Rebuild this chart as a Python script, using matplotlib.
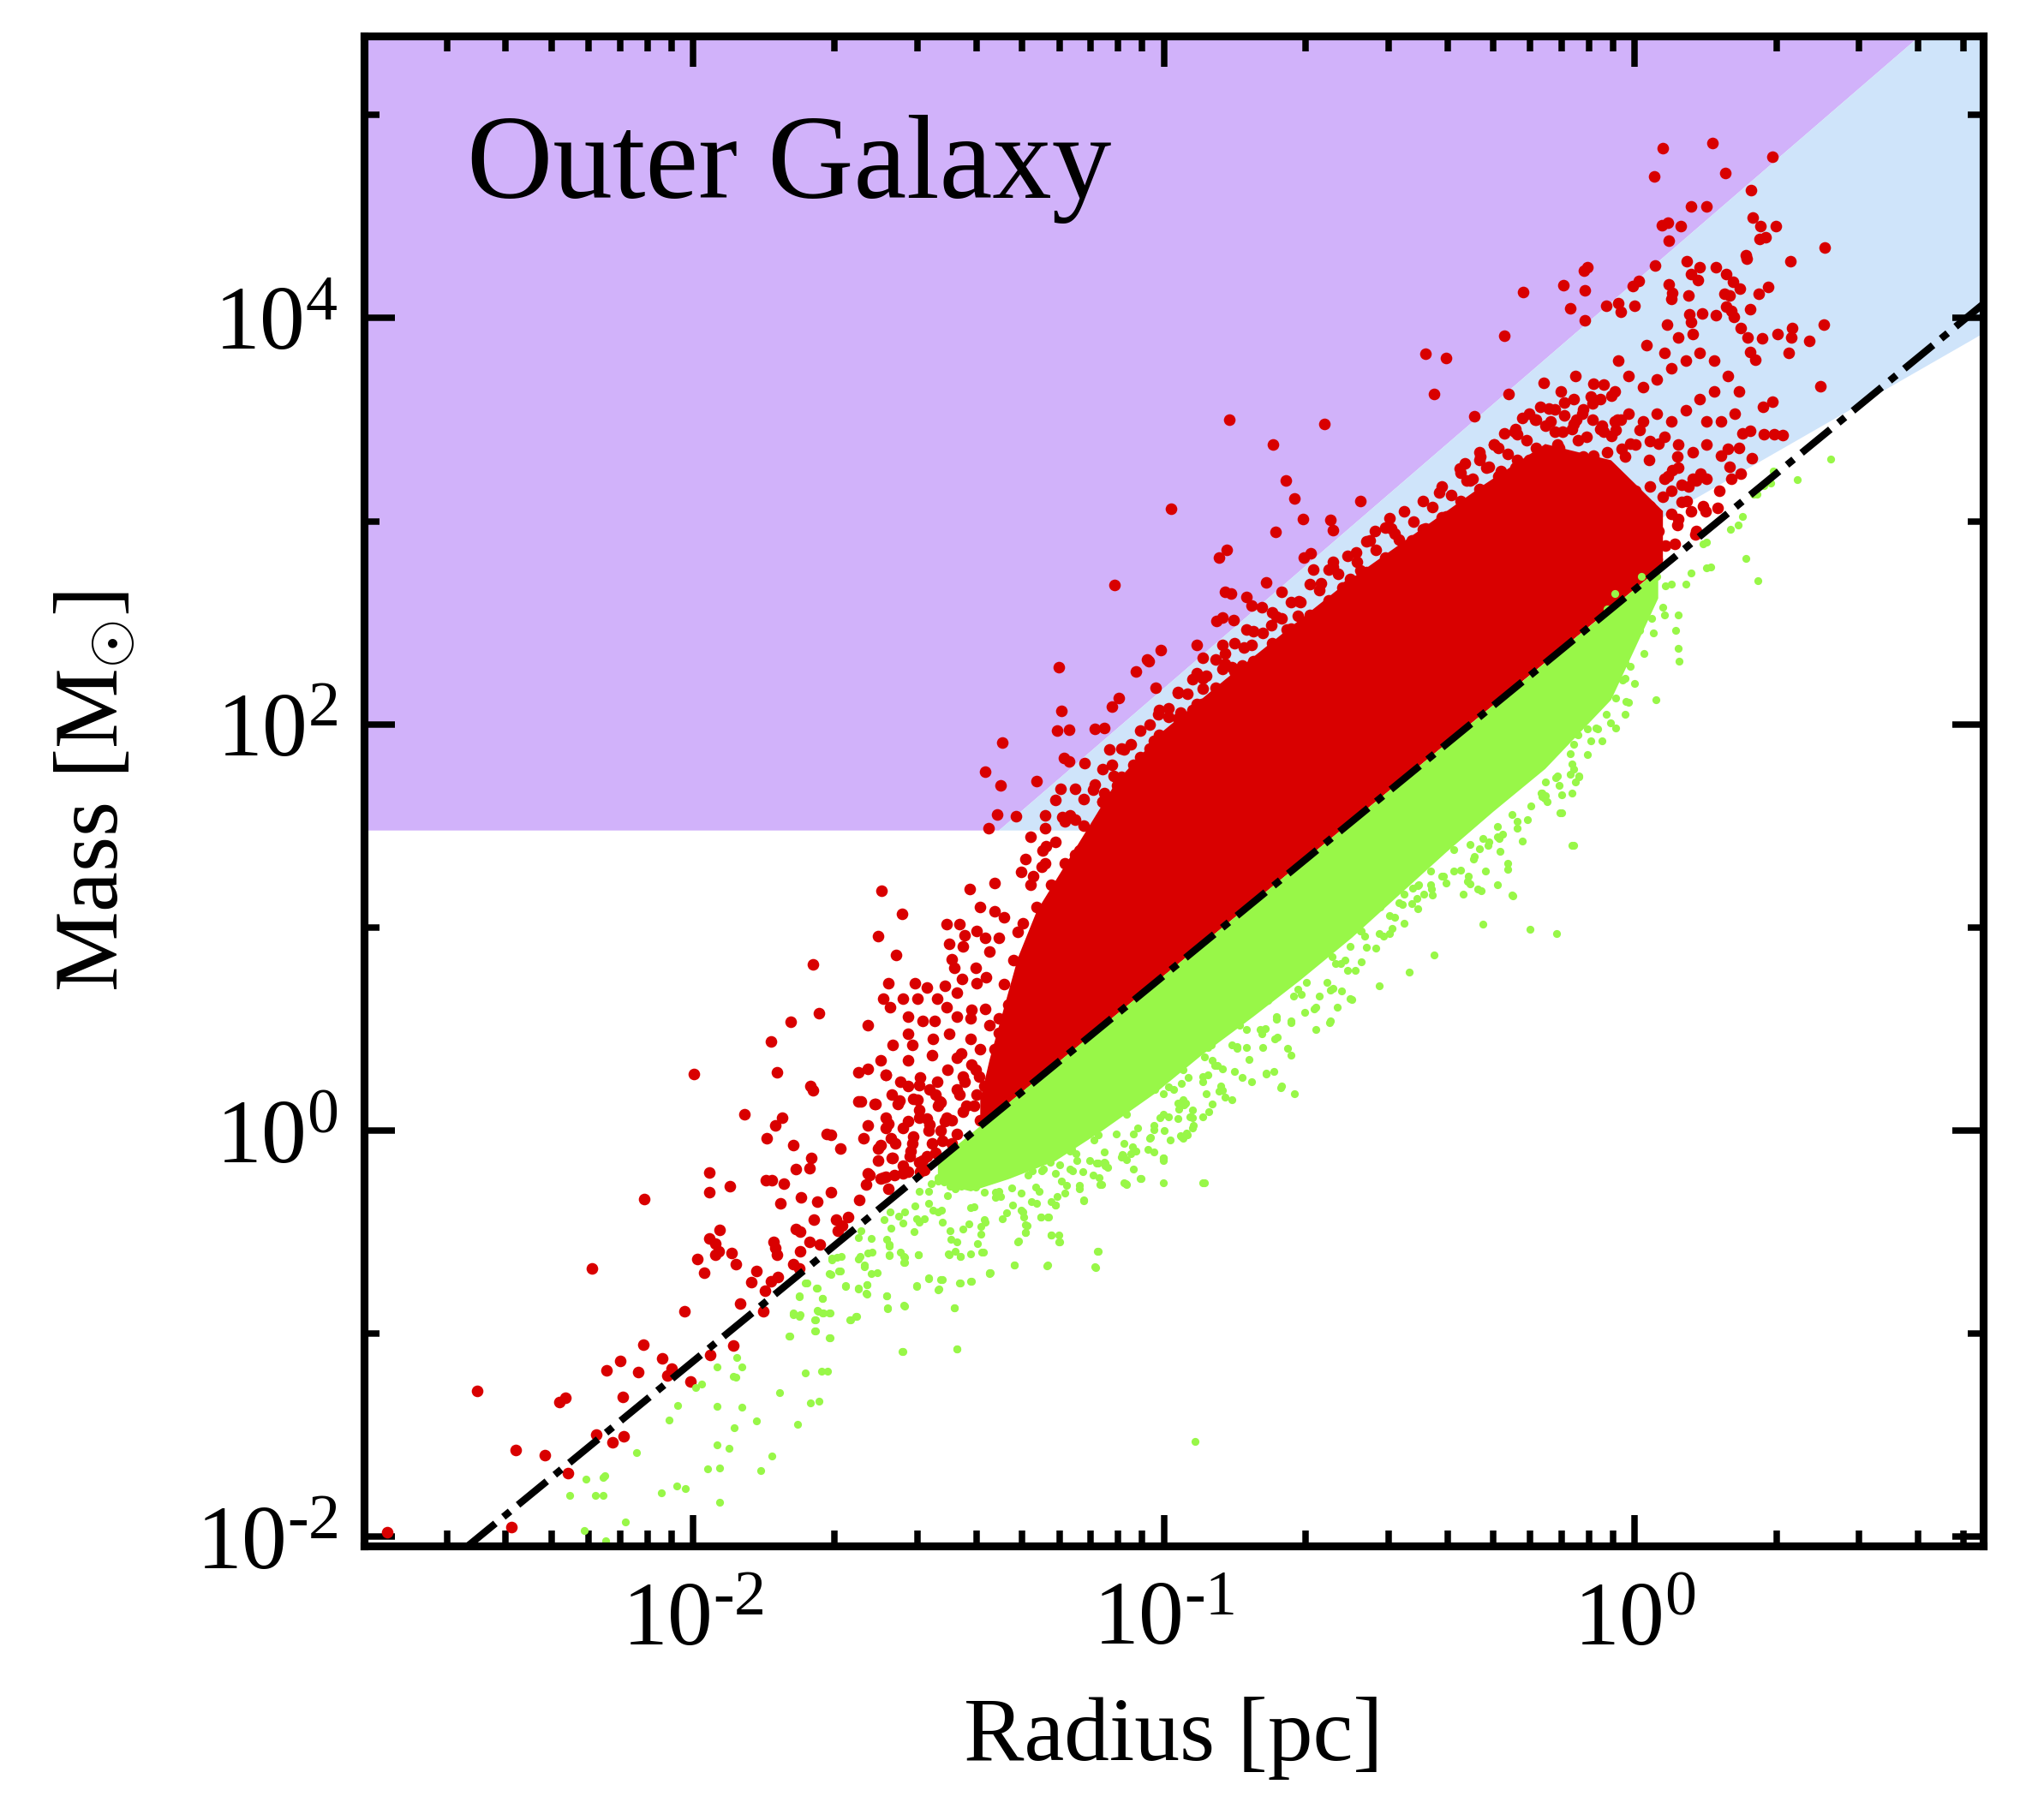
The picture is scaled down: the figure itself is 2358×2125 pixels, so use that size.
import numpy as np
import matplotlib.pyplot as plt
from matplotlib.ticker import FixedLocator, LogLocator, NullFormatter, FuncFormatter

plt.rcParams['font.family'] = ['Liberation Serif', 'DejaVu Serif']
plt.rcParams['mathtext.fontset'] = 'custom'
plt.rcParams['mathtext.rm'] = 'Liberation Serif'
plt.rcParams['mathtext.it'] = 'Liberation Serif:italic'

# axis ranges
r_min, r_max = 0.002, 5.5
m_min, m_max = 0.009, 2.45e5

# thresholds
m_floor = 30.0                  # Msun
kp_coef, kp_exp = 870.0, 1.33   # lower edge of blue band
sig_coef = 15050.0              # 1 g cm^-2 : M = pi R^2 Sigma
b_coef, b_exp = 460.0, 1.9      # dash-dot line

# points: (log10 R [pc], log10 M [Msun])
red_left = [(-1.999,0.277),(-1.822,0.288),(-1.750,0.217),(-1.746,0.199),(-1.891,0.080),(-1.810,0.064),
    (-1.825,0.027),(-1.843,-0.040),(-1.788,-0.071),(-1.717,-0.017),(-1.708,-0.020),(-1.688,-0.087),
    (-1.749,-0.137),(-1.752,-0.188),(-1.781,-0.191),(-1.965,-0.207),(-1.965,-0.305),(-1.921,-0.276),
    (-1.845,-0.243),(-1.833,-0.243),(-1.807,-0.260),(-2.104,-0.337),(-1.814,-0.360),(-1.771,-0.329),
    (-1.737,-0.349),(-1.707,-0.302),(-1.647,-0.341),(-1.644,0.142),(-1.615,0.131),(-1.590,0.272),
    (-1.648,0.288),(-1.743,-0.438),(-1.697,-0.438),(-1.671,-0.426),(-1.683,-0.469),(-1.692,-0.493),
    (-1.944,-0.488),(-1.965,-0.532),(-1.952,-0.555),(-1.946,-0.594),(-1.952,-0.610),(-1.918,-0.602),
    (-1.991,-0.632),(-1.976,-0.699),(-1.909,-0.657),(-1.829,-0.547),(-1.825,-0.579),(-1.822,-0.610),
    (-1.781,-0.485),(-1.772,-0.500),(-1.752,-0.550),(-1.731,-0.560),(-1.773,-0.594),(-1.787,-0.657),
    (-1.775,-0.680),(-1.866,-0.691),(-1.820,-0.722),(-1.835,-0.742),(-1.876,-0.747),(-1.847,-0.789),
    (-1.900,-0.853),(-1.851,-0.891),(-2.018,-0.891),(-2.215,-0.678),(-2.106,-1.053),(-2.155,-1.137),
    (-2.066,-1.122),(-2.183,-1.181),(-2.116,-1.190),(-2.046,-1.172),(-2.054,-1.206),(-1.915,-1.058),
    (-1.963,-1.106),(-2.006,-1.237),(-2.458,-1.284),(-2.149,-1.312),(-2.284,-1.339),(-2.271,-1.315),
    (-2.206,-1.496),(-2.172,-1.534),(-2.147,-1.507),(-2.376,-1.574),(-2.315,-1.598),(-2.265,-1.687),
    (-2.386,-1.955),(-2.649,-1.980),(-1.746,0.818),(-1.733,0.578),(-1.793,0.534),(-1.835,0.440)]

red_low_cluster = [(-1.543,0.217),(-1.520,0.225),(-1.497,0.202),(-1.485,0.178),(-1.578,0.178),(-1.561,0.147),
    (-1.532,0.155),(-1.474,0.139),(-1.427,0.264),(-1.392,0.264),(-1.358,0.264),(-1.381,0.217),
    (-1.369,0.170),(-1.404,0.124),(-1.427,0.092),(-1.462,0.061),(-1.520,0.061),(-1.497,0.030),
    (-1.474,-0.001),(-1.439,-0.017),(-1.450,-0.063),(-1.532,-0.032),(-1.555,0.014),(-1.590,0.061),
    (-1.590,0.014),(-1.580,-0.037),(-1.607,-0.087),(-1.578,-0.134),(-1.555,-0.173),(-1.543,-0.204),
    (-1.520,-0.157),(-1.503,-0.126),(-1.485,-0.110),(-1.538,-0.103),(-1.590,-0.227),(-1.625,-0.220),
    (-1.601,-0.235),(-1.572,-0.220),(-1.508,-0.196),
    (-1.600,1.182),(-1.557,1.068),(-1.607,0.959),(-1.568,0.864),(-1.412,1.187),(-1.461,1.014),
    (-1.435,1.014),(-1.424,0.961),(-1.398,0.982),(-1.456,0.918),(-1.427,0.907),(-1.450,0.842),
    (-1.445,0.799),(-1.429,0.745),(-1.466,0.713),(-1.398,0.724),(-1.377,0.756),(-1.503,0.702),
    (-1.529,0.724),(-1.586,0.724),(-1.555,0.648),(-1.597,0.648),(-1.581,0.605),(-1.523,0.648),
    (-1.482,0.648),(-1.461,0.605),(-1.440,0.562),(-1.409,0.595),(-1.544,0.562),(-1.513,0.541),
    (-1.487,0.541),(-1.628,0.519),(-1.544,0.476),(-1.456,0.476),(-1.576,0.422),(-1.534,0.422),
    (-1.602,0.347),(-1.544,0.347),(-1.492,0.369),(-1.440,0.358),(-1.409,0.326),(-1.628,0.304),
    (-1.591,0.272),(-1.560,0.239),(-1.518,0.261),(-1.482,0.239),(-1.424,0.239),(-1.649,0.143),
    (-1.612,0.132),(-1.565,0.132),(-1.523,0.153),(-1.476,0.143),(-1.435,0.175),(-1.398,0.175),
    (-1.628,0.024),(-1.586,0.035),(-1.544,0.046),(-1.503,0.057),(-1.466,0.046),(-1.638,-0.040),
    (-1.602,-0.073),(-1.570,-0.062),(-1.534,-0.062),(-1.492,-0.062),(-1.607,-0.148),(-1.576,-0.137),
    (-1.539,-0.126),(-1.513,-0.148),(-1.628,-0.213),(-1.597,-0.234),(-1.555,-0.213),(-1.518,-0.202),
    (-1.633,-0.266),(-1.586,-0.288),
    (-1.36,0.40),(-1.35,0.55),(-1.37,0.88),(-1.34,1.05),(-1.39,1.10),(-1.36,1.22),(-1.33,0.30),
    (-1.38,0.60),(-1.41,0.45),(-1.35,0.95),
    (-1.47,-0.05),(-1.45,0.05),(-1.44,0.20),(-1.42,0.12),(-1.40,0.30),(-1.39,0.05),(-1.37,0.20),
    (-1.36,0.10),(-1.34,0.35),(-1.35,0.48),(-1.33,0.62),(-1.34,0.72),(-1.32,0.84),(-1.31,0.98),
    (-1.37,0.52),(-1.39,0.40),(-1.41,0.55),(-1.43,0.38),(-1.46,0.30),(-1.48,0.12),(-1.50,0.00),
    (-1.52,0.10),(-1.49,0.45),(-1.44,0.68),(-1.40,0.80),(-1.38,0.95),(-1.36,1.08)]

red_mid_band = [(-0.705,3.012),(-0.646,3.006),(-0.641,2.956),(-0.763,2.948),(-0.867,2.859),(-0.883,2.823),
    (-1.104,2.687),(-0.870,2.651),(-0.858,2.646),(-0.889,2.511),(-0.876,2.526),(-0.852,2.513),
    (-0.931,2.392),(-1.006,2.364),(-1.036,2.321),(-1.032,2.310),(-1.060,2.259),(-1.224,2.280),
    (-1.017,2.181),(-1.095,2.130),(-1.111,2.087),(-1.218,2.067),(-1.147,1.977),(-1.126,1.983),
    (-1.226,1.968),(-1.202,1.975),(-1.344,1.908),(-1.212,1.833),(-1.202,1.817),(-1.168,1.807),
    (-1.379,1.766),(-1.271,1.721),(-1.346,1.701),(-1.354,1.557),(-1.314,1.546),(-1.372,1.488),
    (-0.703,2.823),(-0.688,2.844),(-0.682,2.762),(-0.641,2.801),(-0.641,2.775),(-0.583,2.758),
    (-0.782,2.698),(-0.750,2.651),(-0.714,2.608),(-0.667,2.694),(-0.604,2.715),(-0.552,2.952),
    (-0.521,3.016),(-0.489,2.844),(-0.500,2.909),(-0.458,2.887),(-0.411,2.984),(-0.390,2.952),
    (-0.348,2.941),(-0.416,2.898),(-0.824,2.629),(-0.813,2.586),(-0.792,2.575),(-0.761,2.532),
    (-0.716,2.534),(-0.771,2.489),(-0.740,2.468),(-0.698,2.468),(-0.657,2.521),(-0.630,2.511),
    (-0.620,2.672),(-0.573,2.651),(-0.824,2.468),(-0.813,2.392),(-0.876,2.392),(-0.871,2.349),
    (-0.918,2.328),(-0.939,2.224),(-0.918,2.226),(-0.876,2.274),(-0.855,2.280),(-0.834,2.289),
    (-0.813,2.274),(-0.782,2.285),(-0.918,2.177),(-0.970,2.155),(-0.965,2.058),(-0.991,2.037),
    (-1.012,2.048),(-0.939,2.069),(-0.918,2.026),(-0.897,1.983),(-1.022,1.919),(-0.991,1.951),
    (-1.043,1.833),(-1.064,1.800),(-1.116,1.876),(-1.085,1.876),(-1.147,1.703),(-1.126,1.660),
    (-1.106,1.746),(-1.189,1.682),(-1.220,1.682),(-1.231,1.628),(-1.252,1.553),(-1.215,1.542),
    (-1.189,1.531),(-1.252,1.488),(-1.283,1.445),(-1.257,1.380),(-1.294,1.337),(-1.304,1.273),
    (-1.278,1.251),(-1.283,1.208),(-1.252,1.316),(-1.210,1.316),(-1.189,1.359)]

# fuzzy upper rim of the red cloud
red_rim = [(-1.30,1.02),(-1.27,1.10),(-1.24,1.21),(-1.22,1.05),(-1.20,1.30),(-1.18,1.38),(-1.16,1.27),
    (-1.15,1.45),(-1.13,1.62),(-1.12,1.50),(-1.10,1.70),(-1.08,1.61),(-1.06,1.77),(-1.05,1.66),
    (-1.03,1.88),(-1.01,1.83),(-0.99,1.95),(-0.98,1.86),(-0.96,2.03),(-0.94,1.93),(-0.92,2.10),
    (-0.88,2.17),(-0.84,2.24),(-0.80,2.31),(-0.76,2.38),(-0.72,2.45),(-0.68,2.52),(-0.64,2.60),
    (-0.60,2.66),(-0.56,2.71),(-0.52,2.80),(-0.48,2.86),(-0.44,2.93),(-0.40,3.00),(-0.36,3.07),
    (-0.32,3.12),(-0.28,3.18),(-0.24,3.27),(-0.20,3.33),(-0.16,3.36),(-0.12,3.40),(-0.04,3.45),
    (-1.25,1.40),(-1.21,1.52),(-1.17,1.63),(-1.13,1.78),(-1.09,1.88),(-1.05,1.97),(-1.01,2.07),
    (-0.97,2.16),(-0.93,2.25),(-0.89,2.32),(-0.85,2.40),(-0.81,2.46),(-0.77,2.55),(-0.73,2.60),
    (-0.69,2.69),(-0.65,2.76),(-0.61,2.83),(-0.57,2.90),(-0.53,2.97),(-0.49,3.05),(-0.45,3.10),
    (-0.41,3.17),(-0.37,3.24),(-0.33,3.30),(-0.29,3.36),(-0.25,3.43),(-0.21,3.50),(-0.17,3.55),
    (-0.13,3.60),(-0.09,3.58),(-0.05,3.62),
    (-1.26,1.30),(-1.23,1.42),(-1.20,1.55),(-1.17,1.50),(-1.15,1.68),(-1.13,1.62),(-1.11,1.80),
    (-1.09,1.74),(-1.07,1.90),(-1.05,1.84),(-1.03,2.00),(-1.01,1.95),(-0.99,2.08),(-0.97,2.03),
    (-0.95,2.15),(-0.93,2.10),(-0.91,2.24),(-0.89,2.18),(-0.87,2.30),(-0.85,2.26),(-0.83,2.38),
    (-0.81,2.31),(-0.79,2.45),(-0.77,2.40),(-0.75,2.52),(-0.73,2.47),(-0.71,2.60),(-0.69,2.54),
    (-0.67,2.66),(-0.65,2.61),(-0.63,2.74),(-0.61,2.68),(-0.59,2.80),(-0.57,2.75),(-0.55,2.86),
    (-0.53,2.82),(-0.51,2.94),(-0.49,2.88),(-0.47,3.00),(-0.45,2.96),(-0.43,3.07),(-0.41,3.02),
    (-0.39,3.13),(-0.37,3.10),(-0.35,3.20),(-0.33,3.16),(-0.31,3.27),(-0.29,3.22),(-0.27,3.33),
    (-0.25,3.30),(-0.23,3.40),(-0.21,3.36),(-0.19,3.47),(-0.17,3.44),(-0.15,3.52),(-0.13,3.48),
    (-0.11,3.55),(-0.09,3.50),(-0.07,3.47),(-0.05,3.42),(-0.03,3.50),(-0.01,3.38),(0.01,3.45),
    (0.03,3.30),(0.05,3.38),(0.07,3.22),(0.09,3.32),(0.11,3.10),(0.13,3.20),(0.15,3.05),
    (0.06,3.12),(0.08,3.25),(0.10,3.18),(0.12,3.05),(0.05,2.95),(0.09,2.98),(0.13,2.95)]

red_upper = [(-0.985,3.060),(-0.861,3.498),(-0.769,3.379),(-0.741,3.202),(-0.722,3.113),(-0.659,3.480),
    (-0.583,3.098),(-0.445,3.823),(-0.401,3.803),(-0.426,3.625),
    (-0.372,3.261),(-0.328,3.320),(-0.299,3.379),(-0.255,3.439),(-0.211,3.498),(-0.182,3.557),
    (-0.153,3.439),(-0.124,3.498),(-0.094,3.616),(-0.065,3.675),(-0.182,3.320),(-0.226,3.261),
    (-0.270,3.202),(-0.313,3.142),(-0.357,3.083),(-0.401,3.024),(-0.445,2.965),(-0.474,2.906),
    (-0.416,3.142),(-0.357,3.202),(-0.240,3.142),(-0.197,3.202),(-0.153,3.261),(-0.109,3.320),
    (-0.065,3.439),(-0.036,3.498),(-0.518,2.965),(-0.562,2.906),(-0.591,2.847),(-0.532,2.787),
    (-0.474,2.787),(-0.416,2.906),(-0.357,2.965),(-0.299,3.024),(-0.240,3.024),(-0.182,3.083),
    (-0.124,3.142),(-0.065,3.261),(-0.021,3.320)]

red_right = [(0.060,4.837),(0.165,4.861),(0.293,4.794),(0.041,4.696),(0.193,4.716),(0.248,4.632),
    (0.120,4.552),(0.152,4.552),(0.057,4.456),(0.070,4.470),(0.098,4.453),(0.072,4.381),
    (0.251,4.494),(0.267,4.455),(0.299,4.455),(0.266,4.390),(0.278,4.398),(0.236,4.309),
    (0.238,4.291),(0.404,4.347),(0.330,4.279),(-0.237,4.130),(-0.277,3.912),(-0.341,3.515),
    (-0.267,3.628),(-0.194,3.682),(-0.151,4.163),(-0.106,4.136),(-0.107,4.234),(-0.101,4.249),
    (-0.136,4.049),(-0.106,3.989),(-0.060,4.059),(-0.035,4.074),(-0.030,4.033),(0.000,4.061),
    (-0.004,4.159),(0.008,4.183),(0.044,4.259),(0.111,4.281),(0.138,4.249),(0.173,4.249),
    (0.119,4.215),(0.134,4.187),(0.073,4.168),(0.080,4.125),(0.078,4.093),(0.114,4.112),
    (0.195,4.215),(0.208,4.178),(0.223,4.146),(0.191,4.121),(0.202,4.112),(0.263,4.121),
    (0.284,4.155),(0.195,4.055),(0.206,4.036),(0.210,4.008),(0.246,4.046),(0.116,4.018),
    (0.119,3.980),(0.068,3.970),(0.143,4.021),(0.173,4.014),(0.226,3.952),(0.240,3.904),
    (0.270,3.901),(0.304,3.923),(0.334,3.951),(0.333,3.904),(0.370,3.889),(0.401,3.970),
    (0.327,3.829),(0.395,3.665),(0.246,3.835),(0.257,3.795),(0.293,3.590),(0.272,3.562),
    (0.275,3.430),(0.296,3.428),(0.315,3.426),(0.246,3.445),(0.249,3.311),(0.221,3.362),
    (0.202,3.270),(0.226,3.236),(0.205,3.211),(0.180,3.151),(0.176,3.066),(0.146,3.076),
    (0.140,3.234),(0.123,3.211),(0.128,2.934),(0.093,3.010),(0.066,2.878),(0.036,2.868),
    (-0.005,2.850),
    (-0.299,3.377),(-0.254,3.452),(-0.224,3.528),(-0.179,3.490),(-0.149,3.584),(-0.111,3.528),
    (-0.073,3.603),(-0.043,3.641),(-0.013,3.716),(0.017,3.660),(0.047,3.697),(0.078,3.754),
    (0.108,3.791),(0.138,3.829),(0.168,3.791),(0.198,3.716),(0.221,3.641),(0.168,3.641),
    (0.138,3.603),(0.108,3.547),(0.078,3.490),(0.047,3.528),(0.017,3.490),(-0.013,3.528),
    (-0.043,3.490),(-0.073,3.452),(-0.103,3.415),(-0.133,3.452),(-0.164,3.377),(-0.194,3.339),
    (-0.224,3.302),(-0.254,3.264),(-0.284,3.245),(-0.315,3.264),(-0.345,3.208),(-0.330,3.113),
    (-0.299,3.151),(-0.269,3.170),(-0.239,3.189),(-0.209,3.208),(-0.179,3.226),(-0.149,3.264),
    (-0.118,3.302),(-0.088,3.321),(-0.058,3.339),(-0.028,3.358),(0.002,3.377),(0.032,3.396),
    (0.063,3.415),(0.093,3.377),(0.123,3.339),(0.153,3.377),(0.183,3.490),(0.213,3.528),
    (0.153,3.490),(0.093,3.264),(0.063,3.208),(0.032,3.170),(0.002,3.151),(-0.028,3.113),
    (-0.058,3.095),(-0.088,3.113),(-0.118,3.132),(0.078,3.151),(0.115,3.170),(0.153,3.208),
    (0.198,3.358),(0.229,3.434),(0.183,3.321),(0.025,3.867),(0.063,3.829),(0.093,3.905),
    (0.123,3.923),(-0.035,3.791),(-0.088,3.679),(-0.126,3.716),(-0.156,3.641),(-0.201,3.565),
    (-0.239,3.509),(-0.277,3.434),(-0.330,3.339),(-0.360,3.283),
    (-0.020,2.981),(0.017,3.019),(0.047,2.962),(0.002,2.906),(-0.043,2.887),(0.078,3.038),
    (0.100,3.095),(0.032,3.076),(-0.013,3.057),(-0.066,3.000),(0.047,2.812),(0.085,2.887)]

green_left = [(-0.913,-0.259),(-0.934,-1.531),(-1.002,-0.137),(-1.050,-0.235),(-1.081,-0.263),(-1.087,-0.123),
    (-1.067,-0.079),(-1.135,-0.266),(-1.143,-0.160),(-1.126,-0.157),(-1.170,-0.344),(-1.139,-0.594),
    (-1.145,-0.675),(-1.247,-0.664),(-1.317,-0.661),(-1.369,-0.700),(-1.223,-0.513),(-1.239,-0.516),
    (-1.223,-0.547),(-1.311,-0.547),(-1.294,-0.504),(-1.291,-0.469),(-1.247,-0.427),(-1.261,-0.427),
    (-1.230,-0.368),(-1.387,-0.599),(-1.410,-0.607),(-1.433,-0.622),(-1.456,-0.610),(-1.410,-0.742),
    (-1.433,-0.753),(-1.474,-0.735),(-1.500,-0.727),(-1.477,-0.781),(-1.525,-0.766),(-1.521,-0.610),
    (-1.551,-0.648),(-1.551,-0.625),(-1.584,-0.610),(-1.584,-0.563),(-1.589,-0.816),(-1.587,-0.875),
    (-1.551,-0.863),(-1.445,-0.875),(-1.555,-1.087),(-1.439,-1.075),(-1.370,-0.703),(-1.636,-0.672),
    (-1.630,-0.758),(-1.630,-0.805),(-1.648,-0.781),(-1.677,-0.766),(-1.654,-0.914),(-1.665,-0.933),
    (-1.688,-0.691),(-1.708,-0.708),(-1.694,-0.625),(-1.706,-0.638),(-1.726,-0.828),(-1.737,-0.778),
    (-1.775,-0.817),(-1.758,-0.750),(-1.787,-0.906),(-1.775,-0.914),(-1.735,-0.891),(-1.723,-0.899),
    (-1.709,-0.899),(-1.741,-0.933),(-1.741,-0.988),(-1.709,-1.020),(-1.795,-1.012),(-1.727,-1.187),
    (-1.714,-1.187),(-1.761,-1.192),(-1.733,-1.332),(-1.750,-1.340),(-1.779,-1.448),(-1.816,-1.289),
    (-1.907,-1.120),(-1.897,-1.164),(-1.950,-1.164),(-1.909,-1.215),(-1.915,-1.211),(-1.981,-1.250),
    (-1.994,-1.265),(-2.033,-1.354),(-1.950,-1.359),(-1.897,-1.362),(-1.912,-1.464),(-1.865,-1.432),
    (-1.833,-1.601),(-1.923,-1.567),(-1.950,-1.549),(-2.051,-1.425),(-2.120,-1.585),(-1.944,-1.660),
    (-1.969,-1.666),(-1.857,-1.676),(-1.944,-1.830),(-2.034,-1.752),(-2.017,-1.765),(-2.068,-1.784),
    (-2.188,-1.699),(-2.192,-1.710),(-2.228,-1.718),(-2.262,-1.799),(-2.207,-1.796),(-2.192,-1.799),
    (-2.143,-1.929),(-2.232,-1.971),(-2.185,-2.022),
    (-1.369,-0.220),(-1.334,-0.173),(-1.311,-0.126),(-1.276,-0.079),(-1.242,-0.017),(-1.195,0.030),
    (-1.160,0.092),(-1.114,0.139),(-1.079,0.170),(-1.021,0.202),(-0.963,0.233),(-0.917,0.264),
    (-0.963,0.139),(-1.009,0.061),(-1.056,0.014),(-1.102,-0.017),(-1.149,-0.048),(-1.195,-0.095),
    (-1.242,-0.157),(-1.288,-0.220),(-1.323,-0.282),(-1.358,-0.329),(-1.404,-0.376),(-1.265,-0.298),
    (-1.218,-0.251),(-1.172,-0.204),(-1.125,-0.173),(-1.079,-0.142),(-1.033,-0.095),(-0.986,-0.048),
    (-0.940,0.014),(-0.905,0.092),(-1.334,-0.407),(-1.381,-0.438),(-1.427,-0.485),
    (-1.46,-0.22),(-1.50,-0.30),(-1.43,-0.15),(-1.48,-0.40),(-1.52,-0.45),(-1.40,-0.28),
    (-1.55,-0.40),(-1.52,-0.30),(-1.50,-0.36),(-1.48,-0.25),(-1.46,-0.32),(-1.44,-0.18),
    (-1.42,-0.26),(-1.40,-0.12),(-1.38,-0.20),(-1.36,-0.05),(-1.53,-0.50),(-1.47,-0.45),
    (-1.41,-0.38),(-1.35,-0.30),(-1.58,-0.48),(-1.56,-0.60),(-1.44,-0.55),(-1.38,-0.45)]

# extra points from the lower-left part of the green cloud
green_low = [(-1.706,-0.630),(-1.685,-0.619),(-1.646,-0.619),(-1.628,-0.605),(-1.619,-0.598),(-1.649,-0.633),
    (-1.637,-0.661),(-1.621,-0.703),(-1.609,-0.701),(-1.583,-0.616),(-1.552,-0.619),(-1.552,-0.650),
    (-1.521,-0.612),(-1.500,-0.729),(-1.471,-0.734),(-1.526,-0.764),(-1.479,-0.785),(-1.434,-0.753),
    (-1.409,-0.743),(-1.370,-0.701),(-1.317,-0.664),(-1.249,-0.665),(-1.147,-0.672),(-1.141,-0.594),
    (-1.239,-0.513),(-1.222,-0.549),(-1.309,-0.546),(-1.294,-0.504),(-1.294,-0.464),(-1.298,-0.425),
    (-1.343,-0.433),(-1.384,-0.598),(-1.396,-0.558),(-1.389,-0.509),(-1.388,-0.474),(-1.415,-0.459),
    (-1.455,-0.492),(-1.452,-0.537),(-1.443,-0.594),(-1.432,-0.622),(-1.458,-0.609),(-1.473,-0.394),
    (-1.491,-0.394),(-1.525,-0.433),(-1.509,-0.433),(-1.528,-0.373),(-1.555,-0.457),(-1.564,-0.422),
    (-1.582,-0.401),(-1.594,-0.440),(-1.588,-0.537),(-1.583,-0.570),(-1.621,-0.532),(-1.643,-0.495),
    (-1.649,-0.528),(-1.710,-0.706),(-1.690,-0.692),(-1.677,-0.764),(-1.649,-0.778),(-1.632,-0.803),
    (-1.631,-0.760),(-1.589,-0.816),(-1.587,-0.879),(-1.553,-0.862),(-1.667,-0.933),(-1.653,-0.917),
    (-1.710,-0.900),(-1.726,-0.897),(-1.737,-0.886),(-1.740,-0.931),(-1.773,-0.907),(-1.788,-0.900),
    (-1.775,-0.816),(-1.761,-0.753),(-1.738,-0.778),(-1.726,-0.827),(-1.796,-1.013),(-1.740,-0.987),
    (-1.710,-1.020),(-1.556,-1.087),(-1.439,-1.076),(-1.446,-0.873),(-1.170,-0.345),(-1.132,-0.267),
    (-1.080,-0.264),(-1.048,-0.236),(-1.002,-0.138),(-0.963,-0.031),(-0.951,-0.021),(-0.969,0.106),
    (-0.957,0.127),(-0.939,0.063),(-1.021,0.003),(-1.029,-0.035),(-1.088,-0.120),(-1.070,-0.113),
    (-1.139,-0.162),(-1.125,-0.159),(-1.185,-0.148),(-1.187,-0.113),(-1.206,-0.270),(-1.227,-0.324),
    (-1.230,-0.369),(-1.245,-0.425),(-1.262,-0.425),(-1.282,-0.352),(-1.303,-0.394),(-1.321,-0.366),
    (-1.346,-0.324),(-1.358,-0.302),(-1.382,-0.302),(-1.399,-0.253),(-1.412,-0.246),(-1.431,-0.274),
    (-1.443,-0.288),(-1.455,-0.274),(-1.467,-0.253),(-1.479,-0.232),(-1.494,-0.260),(-1.467,-0.190),
    (-1.443,-0.176),(-1.418,-0.155),(-1.403,-0.204),(-1.385,-0.225),(-1.367,-0.239),(-1.346,-0.190),
    (-1.327,-0.211),(-1.315,-0.162),(-1.297,-0.169),(-1.279,-0.197),(-1.255,-0.190),(-1.221,-0.169),
    (-1.194,-0.197)]

green_mid = [(-0.051,2.349),(-0.025,2.220),(-0.019,2.112),(-0.051,2.005),(-0.082,1.983),(-0.118,1.746),
    (-0.134,1.660),(-0.165,1.746),(-0.155,1.563),(-0.197,1.660),(-0.186,1.617),(-0.228,1.531),
    (-0.249,1.488),(-0.291,1.445),(-0.270,1.316),(-0.291,1.208),(-0.312,1.402),(-0.343,1.337),
    (-0.353,1.251),(-0.333,1.187),(-0.364,1.165),(-0.406,1.251),(-0.432,1.187),(-0.458,1.208),
    (-0.463,1.144),(-0.489,1.165),(-0.500,1.122),(-0.521,1.058),(-0.542,0.971),(-0.583,0.982),
    (-0.604,0.907),(-0.625,0.821),(-0.646,0.692),(-0.677,0.605),(-0.709,0.670),(-0.730,0.541),
    (-0.761,0.562),(-0.792,0.476),(-0.824,0.498),(-0.844,0.412),(-0.876,0.304),(-0.897,0.347),
    (-0.918,0.239),(-0.959,0.153),(-0.991,0.067),(-1.022,0.024),(-1.064,-0.019),(-1.085,-0.062),
    (-1.126,-0.105),(-1.158,-0.148),(-1.200,-0.191),(-1.231,-0.213),(-1.273,-0.277),(-1.304,-0.309),
    (-0.134,1.402),(-0.259,1.154),(-0.322,1.014),(-0.427,0.864),(-0.479,0.778),(-0.542,0.713),
    (-0.604,0.648),(-0.646,0.541),(-0.677,0.498),(-0.730,0.369),(-0.750,0.218),(-0.782,0.282),
    (-0.813,0.239),(-0.855,0.153),(-0.876,0.196),(-0.897,0.132),(-0.918,0.067),(-0.938,0.024),
    (-0.959,-0.040),(-1.001,-0.148),(-1.022,-0.105),(-1.085,-0.256),(-1.001,-0.256),(-0.918,-0.256),
    (-1.064,-0.191),(-1.137,-0.234),(-1.179,-0.288)]

# fuzzy lower rim of the green cloud
green_rim = [(0.04,2.45),(0.02,2.35),(0.00,2.20),(-0.02,2.05),(-0.04,1.98),(-0.07,1.92),(-0.10,1.85),
    (-0.13,1.78),(-0.16,1.70),(-0.19,1.65),(-0.22,1.60),(-0.25,1.52),(-0.28,1.46),(-0.31,1.42),
    (-0.34,1.35),(-0.37,1.28),(-0.40,1.22),(-0.43,1.16),(-0.46,1.09),(-0.49,1.02),(-0.52,0.97),
    (-0.55,0.90),(-0.58,0.83),(-0.61,0.79),(-0.64,0.70),(-0.67,0.66),(-0.70,0.58),(-0.73,0.53),
    (-0.76,0.46),(-0.79,0.41),(-0.82,0.35),(-0.85,0.29),(-0.88,0.22),(-0.91,0.18),(-0.94,0.10),
    (-0.97,0.06),(-1.00,0.00),(-1.03,-0.04),(-1.06,-0.10),(-1.09,-0.13),(-1.12,-0.18),(-1.15,-0.22),
    (-1.18,-0.27),(-1.21,-0.31),(-1.24,-0.35),(-1.27,-0.36),(-1.30,-0.40),
    (-0.06,2.05),(-0.12,1.95),(-0.18,1.85),(-0.24,1.72),(-0.30,1.62),(-0.36,1.50),(-0.42,1.38),
    (-0.48,1.25),(-0.54,1.10),(-0.60,1.02),(-0.66,0.88),(-0.72,0.80),(-0.78,0.64),(-0.84,0.52),
    (-0.90,0.42),(-0.96,0.30),(-1.02,0.20),(-1.08,0.08),(-1.14,-0.02),(-1.20,-0.10),(-1.26,-0.20)]

green_right = [(0.045,2.119),(-0.014,2.110),(-0.040,2.130),(-0.066,2.160),(-0.079,1.977),(-0.101,1.977),
    (-0.124,1.954),(-0.129,1.901),(-0.136,1.856),(-0.119,1.741),(-0.126,1.714),(-0.136,1.753),
    (-0.130,1.405),(-0.158,1.565),(-0.155,1.652),(-0.168,1.737),(-0.190,1.714),(-0.192,1.634),
    (-0.199,1.661),(-0.239,1.423),(-0.260,1.158),(-0.223,0.989),(-0.166,0.971),(-0.270,1.286),
    (-0.286,1.375),(-0.288,1.439),(-0.291,1.497),(-0.317,1.279),(-0.326,1.181),(-0.350,1.215),
    (-0.356,1.227),(-0.330,1.389),(-0.350,1.410),(-0.385,1.382),(-0.409,1.252),(-0.434,1.279),
    (-0.434,1.211),(-0.461,1.206),(-0.474,1.119),(-0.471,1.195),(-0.493,1.112),(-0.516,0.993),
    (-0.534,0.959),(-0.570,0.902),(-0.580,0.982),(-0.594,0.787),(-0.615,0.838),(-0.643,0.856),
    (-0.654,0.730),(-0.622,0.689),(-0.601,0.646),(-0.632,0.609),(-0.648,0.531),(-0.680,0.600),
    (-0.716,0.696),(-0.725,0.662),(-0.738,0.403),(-0.722,0.181),(-0.751,0.211),(-0.764,0.449),
    (-0.782,0.277),(-0.766,0.291),(-0.784,0.501),(-0.796,0.497),(-0.834,0.261),(-0.845,0.405),
    (-0.855,0.421),(-0.871,0.163),(-0.883,0.195),(-0.892,0.319),(-0.907,0.273),(-0.913,0.364),
    (-0.949,0.261),(-0.954,0.136),(-0.944,0.067),(-0.965,-0.025),(-0.952,-0.013),(-0.980,0.204),
    (-0.991,0.216),(-1.001,-0.134),(-1.001,0.078),
    (-0.124,2.057),(-0.155,2.011),(-0.197,1.943),(-0.218,1.851),(-0.239,1.782),(-0.281,1.737),
    (-0.302,1.645),(-0.333,1.577),(-0.364,1.531),(-0.395,1.439),(-0.427,1.394),(-0.448,1.325),
    (-0.489,1.279),(-0.521,1.233),(-0.552,1.165),(-0.573,1.096),(-0.615,1.050),(-0.646,1.005),
    (-0.678,0.913),(-0.698,0.845),(-0.740,0.799),(-0.772,0.707),(-0.803,0.639),(-0.834,0.547),
    (-0.876,0.479),(-0.907,0.410),(-0.949,0.364),(-0.980,0.296),(-1.001,0.181),(-0.970,0.136),
    (-0.886,0.319),(-0.824,0.410),(-0.761,0.547),(-0.698,0.730),(-0.636,0.822),(-0.573,0.959),
    (-0.510,1.050),(-0.448,1.165),(-0.385,1.279),(-0.322,1.439),(-0.260,1.554),(-0.197,1.645),
    (-0.134,1.805),(-0.093,1.920)]

green_top = [(0.416,3.307),(0.345,3.206),(0.294,3.245),(0.289,3.189),(0.274,3.174),(0.259,3.132),
    (0.253,3.132),(0.236,2.816),(0.261,2.708),(0.220,2.981),(0.204,2.962),(0.229,3.023),
    (0.161,2.774),(0.153,2.771),(0.153,2.897),(0.146,2.887),(0.119,2.746),(0.108,2.689),
    (0.093,2.539),(0.087,2.464),(0.093,2.375),(0.095,2.309),(0.063,2.539),(0.059,2.577),
    (0.036,2.520),(0.078,2.689),(0.065,2.680),(0.047,2.727),(0.015,2.727),(0.010,2.464),
    (-0.005,2.445),(-0.039,2.501),(-0.020,2.586),(-0.043,2.643),(-0.058,2.567),(-0.066,2.510),
    (-0.020,2.303),(-0.009,2.284),(-0.020,2.228),(-0.047,2.322),(-0.054,2.284),(-0.069,2.237)]

# outlines of the solid (fully overlapping) parts of the two clouds
red_core_logr = [-1.39, 0.06, 0.06, -0.05, -0.19, -0.32, -0.46, -0.60, -0.73, -0.87, -1.00,
                 -1.10, -1.19, -1.27, -1.31, -1.34, -1.37, -1.39]
red_core_logm = [0.02, 2.78, 3.05, 3.30, 3.38, 3.18, 2.95, 2.72, 2.48, 2.22, 1.97,
                 1.72, 1.38, 1.08, 0.85, 0.60, 0.35, 0.15]
green_core_logr = [-1.48, 0.05, 0.05, -0.05, -0.19, -0.30, -0.40, -0.50, -0.60, -0.71, -0.81,
                   -0.92, -1.02, -1.13, -1.23, -1.33, -1.41, -1.48]
green_core_logm = [-0.15, 2.76, 2.62, 2.12, 1.78, 1.57, 1.37, 1.16, 0.95, 0.74, 0.56,
                   0.37, 0.18, 0.00, -0.15, -0.24, -0.30, -0.26]

red = '#d90000'
green = '#98f748'
purple = '#d1b2fa'
blue = '#cfe4fa'

fig = plt.figure(figsize=(11.79, 10.625), dpi=200)
ax = fig.add_axes([0.1802, 0.1506, 0.8016, 0.8296])
ax.set_xscale('log')
ax.set_yscale('log')

# shaded regions
rc = np.sqrt(m_floor / sig_coef)
rtop = np.sqrt(m_max / sig_coef)
rb = (m_floor / kp_coef) ** (1 / kp_exp)
ax.fill([r_min, rc, rtop, r_min], [m_floor, m_floor, m_max, m_max], color=purple, lw=0, zorder=0)
ax.fill([rc, rb, r_max, r_max, rtop], [m_floor, m_floor, kp_coef * r_max ** kp_exp, m_max, m_max],
        color=blue, lw=0, zorder=0)

# red cloud
ax.fill(10 ** np.array(red_core_logr), 10 ** np.array(red_core_logm), color=red, lw=0, zorder=2)
for grp in [red_left, red_low_cluster, red_mid_band, red_rim, red_upper, red_right]:
    a = np.array(grp)
    ax.scatter(10 ** a[:, 0], 10 ** a[:, 1], s=24, c=red, linewidths=0, zorder=2)

# green cloud
ax.fill(10 ** np.array(green_core_logr), 10 ** np.array(green_core_logm), color=green, lw=0, zorder=3)
for grp in [green_left, green_low, green_mid, green_rim, green_right, green_top]:
    a = np.array(grp)
    ax.scatter(10 ** a[:, 0], 10 ** a[:, 1], s=11, c=green, linewidths=0, zorder=3)

rr = np.array([r_min, r_max])
ax.plot(rr, b_coef * rr ** b_exp, color='k', lw=3.0, dashes=(5.2, 1.45, 1.2, 1.45), zorder=5)

ax.set_xlim(r_min, r_max)
ax.set_ylim(m_min, m_max)


def pow_label(v, pos):
    e = int(round(np.log10(v)))
    if e < 0:
        return r'$\mathregular{10^{\text{-}%d}}$' % (-e)
    return r'$\mathregular{10^{%d}}$' % e


fmt = FuncFormatter(pow_label)
ax.xaxis.set_major_locator(LogLocator(base=10, numticks=10))
ax.xaxis.set_minor_locator(LogLocator(base=10, subs=np.arange(2, 10), numticks=20))
ax.xaxis.set_major_formatter(fmt)
ax.xaxis.set_minor_formatter(NullFormatter())
ax.yaxis.set_major_locator(FixedLocator([1e-2, 1e0, 1e2, 1e4]))
ax.yaxis.set_minor_locator(FixedLocator([1e-1, 1e1, 1e3, 1e5]))
ax.yaxis.set_major_formatter(fmt)
ax.yaxis.set_minor_formatter(NullFormatter())

ax.tick_params(which='both', direction='in', top=True, right=True, width=2.7, labelsize=38)
ax.tick_params(which='major', length=13)
ax.tick_params(which='minor', length=6.5)
ax.tick_params(axis='x', which='both', pad=15)
ax.tick_params(axis='y', which='both', pad=11)
for s in ax.spines.values():
    s.set_linewidth(3.3)
    s.set_zorder(6)

ax.set_xlabel('Radius [pc]', fontsize=38)
ax.set_ylabel(r'Mass [M$_{\odot}$]', fontsize=38)
ax.xaxis.set_label_coords(0.5, -0.10)
ax.yaxis.set_label_coords(-0.14, 0.5)

ax.text(0.0635, 0.893, 'Outer Galaxy', transform=ax.transAxes, fontsize=50,
        ha='left', va='baseline', zorder=7)

fig.savefig('out.png', dpi=200)
